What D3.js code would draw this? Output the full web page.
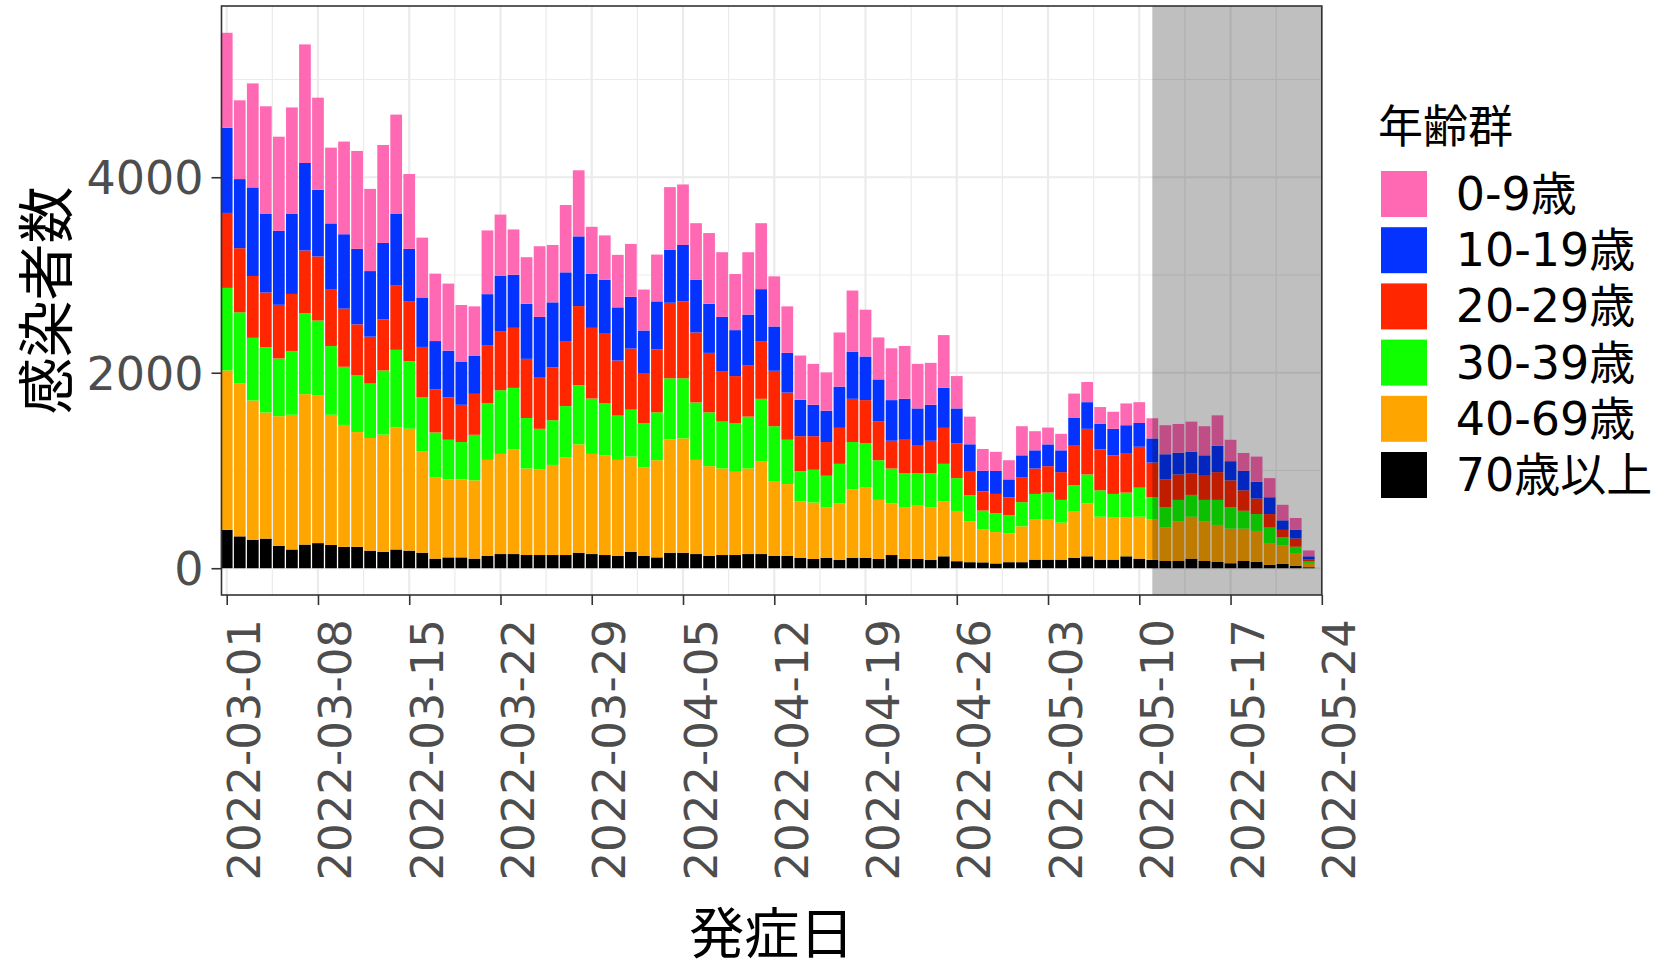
<!DOCTYPE html>
<html>
<head>
<meta charset="utf-8">
<script src="https://cdn.jsdelivr.net/npm/d3@7"></script>
<style>
  body { margin: 0; background: #ffffff; }
  svg { display: block; }
</style>
</head>
<body>
<svg id="chart" width="1663" height="970"></svg>
<script>
// Daily onset counts by age group, 2022-03-01 .. 2022-05-23
const firstDay = "2022-03-01";
const lastDay = "2022-05-23";
const ageGroups = ["0-9歳", "10-19歳", "20-29歳", "30-39歳", "40-69歳", "70歳以上"];
const groupColors = ["#FF69B4", "#0433FF", "#FF2600", "#10FF00", "#FFA500", "#000000"];

const age0_9 = [
  971, 806, 1064, 1102, 964, 1090, 1213, 941, 775, 948,
  1002, 841, 1002, 1017, 766, 612, 690, 686, 578, 503,
  652, 628, 463, 476, 723, 587, 689, 676, 479, 452,
  537, 541, 419, 479, 639, 619, 577, 723, 662, 574,
  638, 675, 513, 476, 453, 419, 392, 554, 628, 479,
  429, 530, 541, 456, 429, 540, 331, 283, 223, 196,
  196, 298, 196, 172, 169, 250, 206, 173, 175, 223,
  213, 206, 297, 294, 307, 298, 311, 219, 182, 257,
  196, 159, 122, 60
];
const age10_19 = [
  872, 707, 906, 803, 756, 818, 895, 683, 672, 761,
  772, 671, 783, 733, 540, 506, 493, 479, 443, 392,
  527, 564, 544, 564, 615, 666, 703, 713, 555, 554,
  544, 530, 442, 490, 544, 577, 541, 503, 554, 470,
  517, 531, 453, 406, 372, 321, 320, 422, 480, 446,
  432, 416, 419, 382, 368, 409, 357, 273, 211, 235,
  185, 223, 186, 223, 223, 284, 273, 260, 271, 284,
  243, 247, 257, 223, 223, 209, 270, 196, 200, 172,
  172, 98, 88, 34
];
const age20_29 = [
  767, 656, 633, 560, 549, 583, 641, 656, 583, 595,
  518, 480, 522, 657, 608, 517, 442, 433, 381, 419,
  591, 605, 614, 605, 530, 540, 665, 810, 723, 713,
  564, 625, 504, 645, 773, 787, 716, 608, 517, 480,
  527, 591, 567, 483, 358, 344, 345, 368, 442, 443,
  395, 284, 344, 283, 334, 368, 356, 247, 196, 196,
  183, 256, 260, 270, 284, 405, 467, 419, 395, 405,
  419, 356, 284, 260, 220, 247, 284, 274, 209, 159,
  138, 74, 84, 17
];
const age30_39 = [
  845, 729, 641, 668, 591, 653, 829, 768, 703, 595,
  584, 557, 656, 794, 692, 554, 457, 405, 382, 466,
  578, 652, 629, 517, 416, 457, 527, 605, 567, 531,
  453, 480, 456, 490, 625, 615, 588, 551, 480, 500,
  531, 638, 568, 453, 311, 335, 321, 406, 484, 453,
  406, 358, 345, 331, 345, 382, 336, 270, 195, 194,
  185, 247, 257, 271, 233, 270, 297, 270, 243, 257,
  297, 223, 209, 219, 223, 219, 256, 220, 183, 172,
  159, 85, 71, 17
];
const age40_69 = [
  1631, 1563, 1424, 1290, 1325, 1378, 1539, 1509, 1332, 1247,
  1174, 1152, 1198, 1248, 1247, 1034, 834, 798, 798, 801,
  983, 1024, 1071, 885, 875, 922, 997, 1108, 1024, 1020,
  983, 973, 905, 994, 1159, 1169, 963, 919, 885, 851,
  875, 950, 760, 736, 574, 577, 517, 578, 699, 716,
  604, 527, 530, 544, 541, 564, 514, 416, 335, 321,
  294, 367, 415, 415, 378, 470, 540, 439, 429, 395,
  429, 416, 342, 406, 429, 406, 379, 354, 331, 318,
  223, 189, 125, 44
];
const age70plus = [
  392, 326, 292, 303, 230, 192, 242, 257, 238, 219,
  219, 180, 169, 192, 180, 159, 98, 111, 111, 98,
  125, 145, 145, 135, 135, 135, 135, 159, 145, 135,
  125, 169, 125, 111, 159, 159, 145, 125, 135, 135,
  145, 145, 125, 125, 108, 95, 108, 84, 108, 108,
  95, 135, 95, 95, 84, 122, 72, 62, 60, 49,
  62, 62, 88, 88, 88, 108, 122, 88, 88, 122,
  98, 86, 74, 74, 98, 74, 64, 51, 74, 64,
  34, 44, 24, 10
];

const yTicks = [0, 2000, 4000];
const yMinorTicks = [1000, 3000, 5000];
const xTickLabels = [
  "2022-03-01", "2022-03-08", "2022-03-15", "2022-03-22", "2022-03-29", "2022-04-05",
  "2022-04-12", "2022-04-19", "2022-04-26", "2022-05-03", "2022-05-10", "2022-05-17", "2022-05-24"
];
const shadeFrom = "2022-05-11";
const shadeTo = "2022-05-24";

const xTitle = "発症日";
const yTitle = "感染者数";
const legendTitle = "年齢群";

// ---- build the table ----
const parse = d3.utcParse("%Y-%m-%d");
const days = d3.utcDay.range(parse(firstDay), d3.utcDay.offset(parse(lastDay), 1));
const seriesByGroup = [age0_9, age10_19, age20_29, age30_39, age40_69, age70plus];
const rows = days.map((d, i) => {
  const r = { date: d };
  ageGroups.forEach((g, k) => { r[g] = seriesByGroup[k][i]; });
  return r;
});
const totals = rows.map(r => d3.sum(ageGroups, g => r[g]));
const stackOrder = ageGroups.slice().reverse(); // oldest group at the bottom
const stacked = d3.stack().keys(stackOrder)(rows);
const colorOf = d3.scaleOrdinal().domain(ageGroups).range(groupColors);

// ---- layout ----
const panel = { left: 221.5, right: 1321.8, top: 6, bottom: 595 };
const DAY = 864e5;
const fontLatin = "'DejaVu Sans', 'Noto Sans CJK JP', sans-serif";
const fontCJK = "'Noto Sans CJK JP', 'DejaVu Sans', sans-serif";

const x = d3.scaleUtc()
  .domain([new Date(+parse(firstDay) - 0.4 * DAY), parse("2022-05-24")])
  .range([panel.left, panel.right]);
const maxTotal = d3.max(totals);
const y = d3.scaleLinear()
  .domain([-0.05 * maxTotal, 1.05 * maxTotal])
  .range([panel.bottom, panel.top]);

const svg = d3.select("#chart");
svg.append("rect").attr("width", 1663).attr("height", 970).attr("fill", "#ffffff");

// panel background
svg.append("rect")
  .attr("x", panel.left).attr("y", panel.top)
  .attr("width", panel.right - panel.left).attr("height", panel.bottom - panel.top)
  .attr("fill", "#ffffff");

const grid = svg.append("g");
const xMajor = xTickLabels.map(parse);
const xMinor = xMajor.slice(0, -1).map(d => new Date(+d + 3.5 * DAY));

grid.selectAll(".ymin").data(yMinorTicks).join("line")
  .attr("x1", panel.left).attr("x2", panel.right)
  .attr("y1", d => y(d)).attr("y2", d => y(d))
  .attr("stroke", "#EBEBEB").attr("stroke-width", 1.2);
grid.selectAll(".xmin").data(xMinor).join("line")
  .attr("y1", panel.top).attr("y2", panel.bottom)
  .attr("x1", d => x(d)).attr("x2", d => x(d))
  .attr("stroke", "#EBEBEB").attr("stroke-width", 1.2);
grid.selectAll(".ymaj").data(yTicks).join("line")
  .attr("x1", panel.left).attr("x2", panel.right)
  .attr("y1", d => y(d)).attr("y2", d => y(d))
  .attr("stroke", "#EBEBEB").attr("stroke-width", 2.2);
grid.selectAll(".xmaj").data(xMajor).join("line")
  .attr("y1", panel.top).attr("y2", panel.bottom)
  .attr("x1", d => x(d)).attr("x2", d => x(d))
  .attr("stroke", "#EBEBEB").attr("stroke-width", 2.2);

// stacked bars
const barW = x(new Date(+days[0] + 0.45 * DAY)) - x(new Date(+days[0] - 0.45 * DAY));
const bars = svg.append("g");
bars.selectAll("g").data(stacked).join("g")
  .attr("fill", s => colorOf(s.key))
  .selectAll("rect").data(s => s).join("rect")
  .attr("x", d => x(d.data.date) - barW / 2)
  .attr("width", barW)
  .attr("y", d => y(d[1]))
  .attr("height", d => Math.max(0, y(d[0]) - y(d[1])));

// shaded period
svg.append("rect")
  .attr("x", x(parse(shadeFrom)))
  .attr("width", x(parse(shadeTo)) - x(parse(shadeFrom)))
  .attr("y", panel.top).attr("height", panel.bottom - panel.top)
  .attr("fill", "#000000").attr("fill-opacity", 0.25);

// panel border
svg.append("rect")
  .attr("x", panel.left).attr("y", panel.top)
  .attr("width", panel.right - panel.left).attr("height", panel.bottom - panel.top)
  .attr("fill", "none").attr("stroke", "#333333").attr("stroke-width", 1.6);

// y axis
const yAxis = svg.append("g")
  .attr("transform", `translate(${panel.left},0)`)
  .call(d3.axisLeft(y).tickValues(yTicks).tickSize(10).tickPadding(8).tickFormat(d3.format("d")));
yAxis.select(".domain").remove();
yAxis.selectAll(".tick line").attr("stroke", "#333333").attr("stroke-width", 1.6);
yAxis.selectAll(".tick text")
  .attr("fill", "#4D4D4D").attr("font-family", fontLatin).attr("font-size", 46)
  .attr("dy", "0.36em");

// x axis
const xAxis = svg.append("g")
  .attr("transform", `translate(0,${panel.bottom})`)
  .call(d3.axisBottom(x).tickValues(xMajor).tickSize(10).tickFormat(d3.utcFormat("%Y-%m-%d")));
xAxis.select(".domain").remove();
xAxis.selectAll(".tick line").attr("stroke", "#333333").attr("stroke-width", 1.6);
xAxis.selectAll(".tick text")
  .attr("fill", "#4D4D4D").attr("font-family", fontLatin).attr("font-size", 45)
  .attr("x", 0).attr("y", 0).attr("dy", null)
  .attr("text-anchor", "end")
  .attr("transform", "translate(33,24) rotate(-90)");

// axis titles
svg.append("text")
  .attr("transform", `translate(42,${(panel.top + panel.bottom) / 2}) rotate(-90)`)
  .attr("text-anchor", "middle").attr("dominant-baseline", "central")
  .attr("font-family", fontCJK).attr("font-size", 57).attr("fill", "#000000")
  .text(yTitle);
svg.append("text")
  .attr("x", (panel.left + panel.right) / 2).attr("y", 929)
  .attr("text-anchor", "middle").attr("dominant-baseline", "central")
  .attr("font-family", fontCJK).attr("font-size", 55).attr("fill", "#000000")
  .text(xTitle);

// legend
const legend = svg.append("g");
legend.append("text")
  .attr("x", 1378).attr("y", 123)
  .attr("dominant-baseline", "central")
  .attr("font-family", fontCJK).attr("font-size", 45).attr("fill", "#000000")
  .text(legendTitle);
const items = legend.selectAll(".item").data(ageGroups).join("g")
  .attr("transform", (d, i) => `translate(1381,${171 + i * 56.2})`);
items.append("rect")
  .attr("width", 46).attr("height", 46)
  .attr("fill", d => colorOf(d));
items.append("text")
  .attr("x", 74.7).attr("y", 23)
  .attr("dominant-baseline", "central")
  .attr("font-family", fontLatin).attr("font-size", 46).attr("fill", "#000000")
  .text(d => d);
</script>
</body>
</html>
